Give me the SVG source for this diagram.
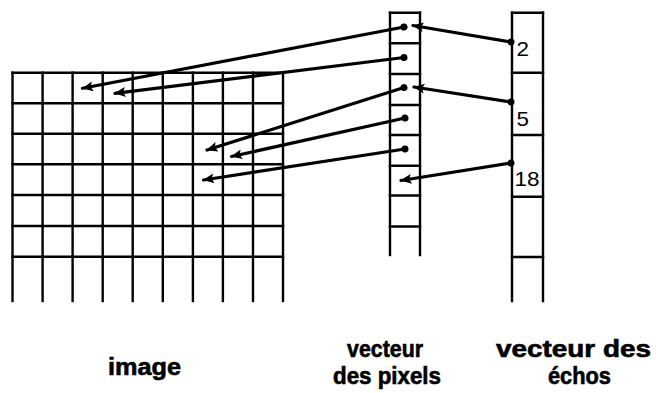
<svg xmlns="http://www.w3.org/2000/svg" width="656" height="393" viewBox="0 0 656 393">
  <style>
    .grid { stroke: #000; stroke-width: 2.4; fill: none; stroke-linecap: square; }
    .conn { stroke: #000; stroke-width: 3.2; fill: none; stroke-linecap: round; }
    .lbl { font-family: "Liberation Sans", Arial, sans-serif; font-weight: bold; font-size: 23px; fill: #000; stroke: #000; stroke-width: 0.6; }
    .num { font-family: "Liberation Sans", Arial, sans-serif; font-size: 21px; fill: #000; }
  </style>
  <defs>
    <marker id="arrow" markerUnits="userSpaceOnUse" markerWidth="11" markerHeight="11" viewBox="0 0 10 10" refX="9.5" refY="5" orient="auto">
      <path d="M0,0.5 L10,5 L0,9.5 L2,5 z" fill="#000"/>
    </marker>
    <marker id="dot" markerUnits="userSpaceOnUse" markerWidth="8" markerHeight="8" viewBox="0 0 8 8" refX="4" refY="4" orient="auto">
      <circle cx="4" cy="4" r="3.5" fill="#000"/>
    </marker>
  </defs>
  <rect width="656" height="393" fill="#fff"/>

  <g id="image-grid" class="grid">
    <line x1="12.5" y1="72.7" x2="283" y2="72.7"/>
    <line x1="12.5" y1="103.3" x2="283" y2="103.3"/>
    <line x1="12.5" y1="133.8" x2="283" y2="133.8"/>
    <line x1="12.5" y1="164.3" x2="283" y2="164.3"/>
    <line x1="12.5" y1="195" x2="283" y2="195"/>
    <line x1="12.5" y1="226" x2="283" y2="226"/>
    <line x1="12.5" y1="256.7" x2="283" y2="256.7"/>
    <line x1="12.5" y1="72.7" x2="12.5" y2="301"/>
    <line x1="42.6" y1="72.7" x2="42.6" y2="301"/>
    <line x1="72.6" y1="72.7" x2="72.6" y2="301"/>
    <line x1="102.7" y1="72.7" x2="102.7" y2="301"/>
    <line x1="132.7" y1="72.7" x2="132.7" y2="301"/>
    <line x1="162.8" y1="72.7" x2="162.8" y2="301"/>
    <line x1="192.9" y1="72.7" x2="192.9" y2="301"/>
    <line x1="222.9" y1="72.7" x2="222.9" y2="301"/>
    <line x1="253" y1="72.7" x2="253" y2="301"/>
    <line x1="283" y1="72.7" x2="283" y2="301"/>
  </g>

  <g id="pixel-vector" class="grid">
    <line x1="390" y1="12.7" x2="390" y2="255"/>
    <line x1="420" y1="12.7" x2="420" y2="255"/>
    <line x1="390" y1="12.7" x2="420" y2="12.7"/>
    <line x1="390" y1="43.3" x2="420" y2="43.3"/>
    <line x1="390" y1="74" x2="420" y2="74"/>
    <line x1="390" y1="105" x2="420" y2="105"/>
    <line x1="390" y1="135" x2="420" y2="135"/>
    <line x1="390" y1="165.7" x2="420" y2="165.7"/>
    <line x1="390" y1="195.5" x2="420" y2="195.5"/>
    <line x1="390" y1="226.5" x2="420" y2="226.5"/>
  </g>

  <g id="echo-vector">
    <g class="grid">
      <line x1="512" y1="12.7" x2="512" y2="301"/>
      <line x1="543" y1="12.7" x2="543" y2="301"/>
      <line x1="512" y1="12.7" x2="543" y2="12.7"/>
      <line x1="512" y1="72.7" x2="543" y2="72.7"/>
      <line x1="512" y1="135" x2="543" y2="135"/>
      <line x1="512" y1="196.7" x2="543" y2="196.7"/>
      <line x1="512" y1="257" x2="543" y2="257"/>
    </g>
    <text class="num" x="516.5" y="56" textLength="12.5" lengthAdjust="spacingAndGlyphs">2</text>
    <text class="num" x="516.5" y="125.5" textLength="12.5" lengthAdjust="spacingAndGlyphs">5</text>
    <text class="num" x="514.5" y="186" textLength="25" lengthAdjust="spacingAndGlyphs">18</text>
  </g>

  <g id="connectors" class="conn">
    <line x1="511" y1="42" x2="413" y2="25.5" marker-start="url(#dot)" marker-end="url(#arrow)"/>
    <line x1="511" y1="102" x2="414" y2="87" marker-start="url(#dot)" marker-end="url(#arrow)"/>
    <line x1="511" y1="163" x2="401" y2="180.5" marker-start="url(#dot)" marker-end="url(#arrow)"/>
    <line x1="404" y1="27" x2="82.5" y2="88.3" marker-start="url(#dot)" marker-end="url(#arrow)"/>
    <line x1="404" y1="57.5" x2="115" y2="93.3" marker-start="url(#dot)" marker-end="url(#arrow)"/>
    <line x1="404" y1="87.5" x2="207" y2="150" marker-start="url(#dot)" marker-end="url(#arrow)"/>
    <line x1="405" y1="118" x2="231.5" y2="156.5" marker-start="url(#dot)" marker-end="url(#arrow)"/>
    <line x1="405" y1="149" x2="203.5" y2="180" marker-start="url(#dot)" marker-end="url(#arrow)"/>
  </g>

  <g id="labels">
    <text class="lbl" x="108" y="375" textLength="73" lengthAdjust="spacingAndGlyphs">image</text>
    <text class="lbl" x="347" y="357" textLength="76" lengthAdjust="spacingAndGlyphs">vecteur</text>
    <text class="lbl" x="333" y="384" textLength="108" lengthAdjust="spacingAndGlyphs">des pixels</text>
    <text class="lbl" x="496" y="357" textLength="155" lengthAdjust="spacingAndGlyphs">vecteur des</text>
    <text class="lbl" x="548" y="384" textLength="63" lengthAdjust="spacingAndGlyphs">échos</text>
  </g>
</svg>
